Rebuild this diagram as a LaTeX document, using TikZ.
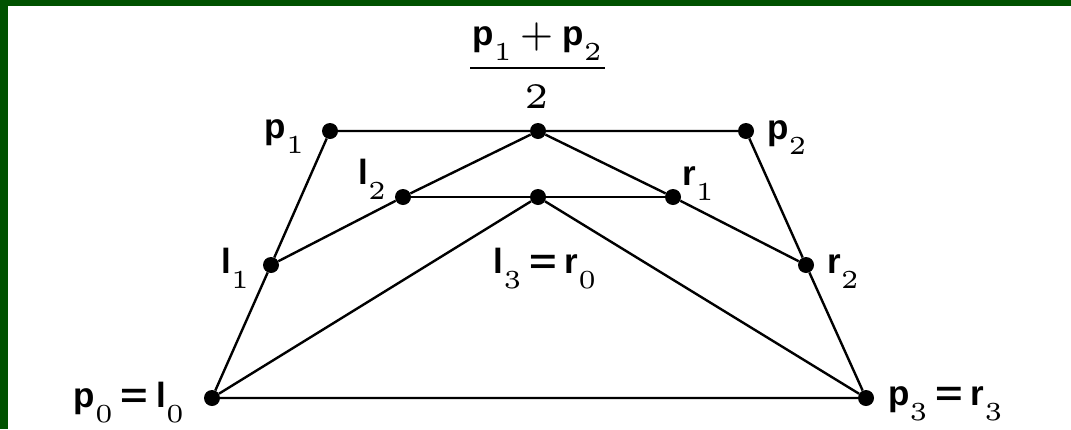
\documentclass[tikz,border=0pt]{standalone}
\usepackage{fontspec}
\usepackage{graphicx}
\setsansfont{Liberation Sans}
\newfontfamily\digfont{lmroman5-regular.otf}
\usetikzlibrary{calc}
\definecolor{framegreen}{RGB}{0,82,0}
\newcommand{\pl}[2]{\textsf{\bfseries #1}\raisebox{-15pt}{\fontsize{26}{26}\digfont #2}}
\newcommand{\eqsign}{\hspace{8pt}\scalebox{1.35}[1]{\textsf{\bfseries =}}\hspace{8pt}}

\begin{document}
\begin{tikzpicture}[
    x=1pt, y=-1pt,
    dot/.style={circle, fill=black, inner sep=0pt, minimum size=16pt},
    lbl/.style={inner sep=0pt, font=\fontsize{35}{40}\selectfont},
    edge/.style={line width=2.4pt, line join=round}
]
\useasboundingbox (0,0) rectangle (1071,429);
\fill[white] (0,0) rectangle (1071,429);
\fill[framegreen] (0,0) rectangle (1071,6);
\fill[framegreen] (0,0) rectangle (8,429);

\node[dot] (p0) at (212,398) {};
\node[dot] (p1) at (330,131) {};
\node[dot] (p2) at (746,131) {};
\node[dot] (p3) at (866,398) {};
\node[dot] (m12) at (538,131) {};
\node[dot] (l1) at (271,265) {};
\node[dot] (l2) at (403,197) {};
\node[dot] (l3) at (538,197) {};
\node[dot] (r1) at (673,197) {};
\node[dot] (r2) at (806,265) {};

\draw[edge] (p0) -- (l1) -- (p1) -- (m12) -- (p2) -- (r2) -- (p3) -- (p0);
\draw[edge] (l1) -- (l2) -- (m12) -- (r1) -- (r2);
\draw[edge] (l2) -- (l3) -- (r1);
\draw[edge] (p0) -- (l3) -- (p3);

\node[lbl, anchor=base east] (p0lbl) at ($(p0)+(-28,9)$) {\pl{p}{0}\eqsign\pl{l}{0}};
\node[lbl, anchor=base west] (p3lbl) at ($(p3)+(22,7)$) {\pl{p}{3}\eqsign\pl{r}{3}};
\node[lbl, anchor=base east] (p1lbl) at ($(p1)+(-26,7)$) {\pl{p}{1}};
\node[lbl, anchor=base west] (p2lbl) at ($(p2)+(21,8)$) {\pl{p}{2}};
\node[lbl, anchor=base east] (l1lbl) at ($(l1)+(-22,8)$) {\pl{l}{1}};
\node[lbl, anchor=base west] (r2lbl) at ($(r2)+(21,8)$) {\pl{r}{2}};
\node[lbl, anchor=base east] (l2lbl) at ($(l2)+(-17,-13)$) {\pl{l}{2}};
\node[lbl, anchor=base west] (r1lbl) at ($(r1)+(9,-12)$) {\pl{r}{1}};
\node[lbl, anchor=base] (l3lbl) at ($(l3)+(7,76)$) {\pl{l}{3}\eqsign\pl{r}{0}};

\node[lbl, anchor=base] (num) at (537,45) {\pl{p}{1}\hspace{8pt}{\fontsize{34}{40}\digfont +}\hspace{8pt}\pl{p}{2}};
\coordinate (barL) at (470,68);
\coordinate (barR) at (605,68);
\draw[line width=2.6pt] (barL) -- (barR);
\node[lbl, anchor=base, font=\fontsize{36}{40}\digfont] (den) at (537,108) {2};
\end{tikzpicture}
\end{document}
